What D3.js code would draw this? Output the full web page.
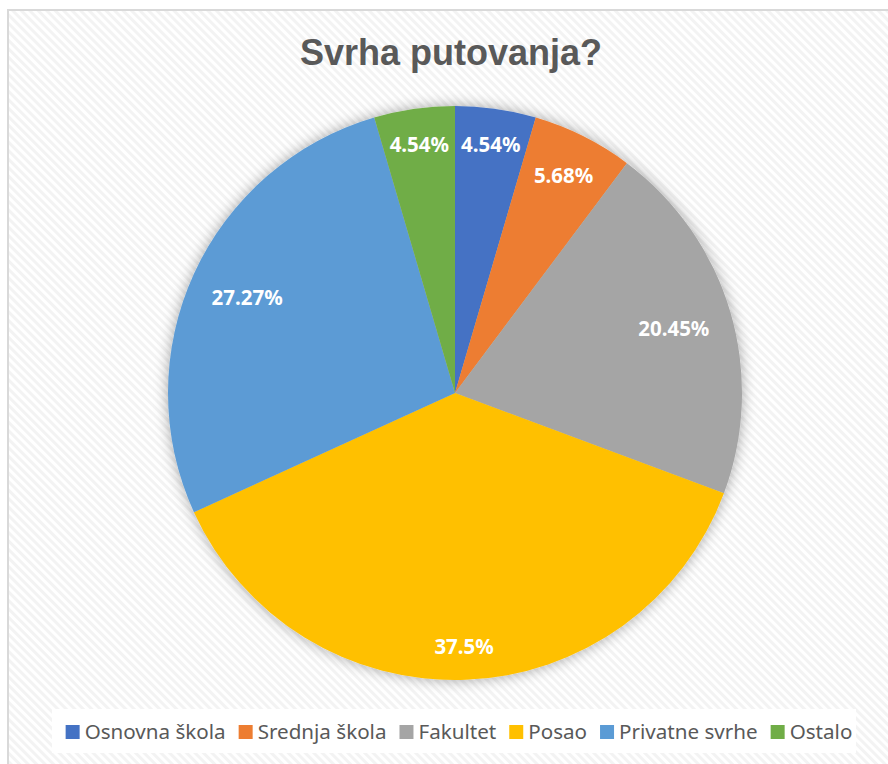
<!DOCTYPE html>
<html>
<head>
<meta charset="utf-8">
<script src="https://cdn.jsdelivr.net/npm/d3@7"></script>
<style>
  body { margin: 0; background: #fff; }
  svg { display: block; }
</style>
</head>
<body>
<div id="chart"></div>
<script>
var categories = ["Osnovna škola", "Srednja škola", "Fakultet", "Posao", "Privatne svrhe", "Ostalo"];
var values = [4.54, 5.68, 20.45, 37.5, 27.27, 4.54];
var valueLabels = ["4.54%", "5.68%", "20.45%", "37.5%", "27.27%", "4.54%"];
var colors = ["#4472C4", "#ED7D31", "#A5A5A5", "#FFC000", "#5B9BD5", "#70AD47"];

var width = 888, height = 764;
var cx = 455, cy = 393, radius = 287;

var svg = d3.select("#chart").append("svg")
    .attr("width", width)
    .attr("height", height);

var defs = svg.append("defs");

// striped chart area background
var pat = defs.append("pattern")
    .attr("id", "stripes")
    .attr("width", 6)
    .attr("height", 6)
    .attr("patternUnits", "userSpaceOnUse")
    .attr("patternTransform", "rotate(-45)");
pat.append("rect").attr("width", 6).attr("height", 6).attr("fill", "#ffffff");
pat.append("rect").attr("width", 3).attr("height", 6).attr("fill", "#f3f3f3");

// soft shadow round the pie
var shadow = defs.append("filter")
    .attr("id", "shadow")
    .attr("x", "-20%").attr("y", "-20%")
    .attr("width", "140%").attr("height", "140%");
shadow.append("feDropShadow")
    .attr("dx", 0).attr("dy", 0)
    .attr("stdDeviation", 7)
    .attr("flood-color", "#000")
    .attr("flood-opacity", 0.35);

svg.append("rect")
    .attr("x", 8)
    .attr("y", 10)
    .attr("width", width + 20)
    .attr("height", height + 20)
    .attr("fill", "url(#stripes)")
    .attr("stroke", "#d9d9d9")
    .attr("stroke-width", 2);

svg.append("text")
    .attr("x", 451)
    .attr("y", 65)
    .attr("text-anchor", "middle")
    .style("font-family", "'Liberation Sans', Arial, sans-serif")
    .style("font-size", "36px")
    .style("font-weight", "bold")
    .style("fill", "#595959")
    .text("Svrha putovanja?");

var pie = d3.pie()
    .sort(null)
    .value(function(d) { return d; });

var arc = d3.arc()
    .innerRadius(0)
    .outerRadius(radius);

var arcs = pie(values);

var g = svg.append("g")
    .attr("transform", "translate(" + cx + "," + cy + ")");

g.append("g")
    .attr("filter", "url(#shadow)")
  .selectAll("path")
    .data(arcs)
    .enter().append("path")
    .attr("d", arc)
    .attr("fill", function(d, i) { return colors[i]; });

// labels at "inside end": box pushed in until it is a fixed pad from the rim
var pad = 22;
g.selectAll(".lbl")
    .data(arcs)
    .enter().append("text")
    .attr("class", "lbl")
    .attr("text-anchor", "middle")
    .attr("dy", "0.35em")
    .style("font-family", "'Noto Sans', sans-serif")
    .style("font-size", "20.5px")
    .style("font-weight", "bold")
    .style("fill", "#ffffff")
    .text(function(d, i) { return valueLabels[i]; })
    .each(function(d) {
      var bb = this.getBBox();
      var a = (d.startAngle + d.endAngle) / 2;
      var hw = bb.width / 2, hh = 10;
      var r = radius - pad - (hw * Math.abs(Math.sin(a)) + hh * Math.abs(Math.cos(a)));
      d3.select(this)
        .attr("x", r * Math.sin(a))
        .attr("y", -r * Math.cos(a));
    });

// legend
svg.append("rect")
    .attr("x", 52)
    .attr("y", 709)
    .attr("width", 804)
    .attr("height", 44)
    .attr("fill", "#ffffff");

var legend = svg.append("g");
var sq = 14, gapText = 5, gapItem = 13;
var xPos = 0;
categories.forEach(function(c, i) {
  var item = legend.append("g").attr("transform", "translate(" + xPos + ",0)");
  item.append("rect")
      .attr("x", 0)
      .attr("y", 725)
      .attr("width", sq)
      .attr("height", sq)
      .attr("fill", colors[i]);
  var t = item.append("text")
      .attr("x", sq + gapText)
      .attr("y", 739)
      .style("font-family", "'Noto Sans', sans-serif")
      .style("font-size", "20.6px")
      .style("fill", "#595959")
      .text(c);
  xPos += sq + gapText + t.node().getComputedTextLength() + gapItem;
});
var legendWidth = xPos - gapItem;
legend.attr("transform", "translate(" + (459 - legendWidth / 2) + ",0)");
</script>
</body>
</html>
